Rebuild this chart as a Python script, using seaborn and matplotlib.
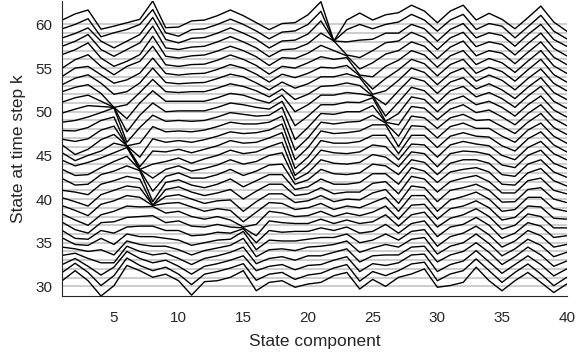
import numpy as np
import pandas as pd
import matplotlib.pyplot as plt
import seaborn as sns

# time steps (one trace each) and state components (x axis)
steps = list(range(30, 61))
components = list(range(1, 41))

# offset of each trace above its time-step line, per component, for k = 30..60
comp_01 = [0.65, 0.6, 0.5, 0.55, 0.5, 0.55, 0.4, 0.35, 0.3, 0.25, 0.15, 0.0, 0.35, 0.4, 0.45, 0.3, 0.2, -0.15, -0.15, -0.2, -0.15, 0.1, 0.3, 0.1, 0.05, 0.0, 0.55, 0.5, 0.45, 0.5, 0.5]
comp_02 = [1.8, 1.65, 1.2, 0.8, 0.3, -0.2, -0.5, -0.5, -0.4, -0.3, -0.3, -0.2, -0.4, -0.3, -0.2, -0.6, -0.9, -0.4, -0.2, 0.0, 0.3, 0.6, 0.8, 0.84, 1.0, 0.96, 1.1, 1.07, 0.96, 1.0, 1.2]
comp_03 = [0.65, 0.6, 0.3, 0.2, 0.0, -0.3, -0.6, -0.9, -1.0, -0.9, -0.8, -0.5, -0.3, -0.2, 0.2, 0.0, -0.3, -0.1, 0.2, 0.4, 0.7, 0.9, 1.1, 1.23, 1.19, 1.53, 1.88, 1.84, 1.6, 1.65, 1.65]
comp_04 = [-1.1, -0.9, -0.7, -0.3, 0.2, 0.5, 0.4, 0.3, 0.2, 0.4, 0.5, 0.7, 0.8, 0.6, 0.7, 0.5, 0.8, 0.9, 1.0, 0.9, 0.6, 0.2, 0.1, 0.27, 0.23, 0.19, 0.15, 0.12, 0.08, -0.42, -0.55]
comp_05 = [0.08, 0.23, 0.2, -0.3, -0.4, -0.2, 0.1, 0.4, 0.6, 0.8, 1.0, 1.1, 1.2, 1.3, 1.3, 1.4, 1.4, 1.35, 1.4, 1.45, 0.5, -0.5, -1.5, -1.0, -0.73, -0.77, -0.8, -0.65, -0.69, 0.04, -0.2]
comp_06 = [2.4, 2.25, 2.0, 1.6, 1.2, 1.0, 0.8, 0.9, 1.2, 1.4, 1.5, 1.6, 1.8, 1.9, 1.9, 1.05, 0.1, -0.9, -1.9, -2.5, -2.3, -1.8, -1.2, -0.7, -0.35, 0.19, -0.23, 0.12, 0.08, 0.42, 0.19]
comp_07 = [1.8, 1.4, 1.2, 1.0, 0.8, 0.7, 0.9, 1.0, 1.1, 1.2, 1.3, 1.3, 1.25, 0.35, -0.6, -1.6, -2.3, -2.2, -1.6, -0.8, -0.4, 0.0, 0.2, 0.3, 0.42, 0.77, 0.54, 0.88, 0.84, 1.0, 0.58]
comp_08 = [1.05, 0.8, 0.7, 0.6, 0.6, 0.7, 0.9, 1.1, 1.15, 0.25, -0.7, -1.7, -2.3, -2.1, -1.6, -1.0, -0.5, -0.1, 0.3, 0.6, 1.0, 1.4, 1.7, 2.0, 2.15, 2.5, 2.65, 2.8, 2.8, 2.7, 2.68]
comp_09 = [1.4, 1.2, 1.0, 0.8, 0.6, 0.5, 0.4, 0.3, 0.4, 0.5, 0.3, 0.1, -0.1, -0.4, -0.6, -0.7, -0.6, -0.5, -0.3, -0.1, 0.0, 0.2, 0.3, 0.35, 0.38, 0.38, 0.35, 0.31, 0.27, 0.04, -0.38]
comp_10 = [0.65, 0.4, 0.3, 0.2, 0.2, 0.3, 0.4, 0.5, 0.6, 0.6, 0.5, 0.4, 0.2, 0.0, -0.2, -0.3, -0.3, -0.3, -0.2, 0.0, 0.1, 0.2, 0.2, 0.2, 0.2, 0.19, 0.15, 0.12, -0.12, -0.35, -0.3]
comp_11 = [-1.0, -0.8, -0.6, -0.5, -0.4, -0.3, -0.2, -0.1, 0.0, 0.1, 0.0, -0.2, -0.4, -0.6, -0.8, -0.9, -0.7, -0.5, -0.3, -0.1, 0.1, 0.2, 0.3, 0.3, 0.35, 0.4, 0.4, 0.4, 0.4, 0.4, 0.4]
comp_12 = [0.54, 0.4, 0.3, 0.2, 0.1, 0.0, -0.1, -0.2, -0.3, -0.4, -0.5, -0.6, -0.7, -0.6, -0.5, -0.4, -0.3, -0.2, -0.1, 0.0, 0.1, 0.2, 0.3, 0.35, 0.4, 0.45, 0.5, 0.5, 0.5, 0.5, 0.5]
comp_13 = [0.65, 0.7, 0.6, 0.5, 0.4, 0.3, 0.2, 0.1, 0.0, -0.1, -0.2, -0.3, -0.3, -0.2, -0.1, 0.0, 0.1, 0.2, 0.3, 0.4, 0.5, 0.6, 0.7, 0.8, 0.85, 0.9, 0.95, 1.0, 1.0, 1.0, 1.0]
comp_14 = [1.04, 1.1, 1.0, 0.9, 0.7, 0.4, 0.1, -0.2, -0.4, -0.3, -0.1, 0.1, 0.3, 0.4, 0.5, 0.6, 0.7, 0.7, 0.8, 0.9, 1.0, 1.1, 1.2, 1.3, 1.4, 1.5, 1.5, 1.6, 1.6, 1.6, 1.65]
comp_15 = [1.8, 1.6, 1.5, 1.5, 1.5, 1.3, 0.6, -0.3, -1.2, -1.6, -1.4, -1.0, -0.6, -0.3, 0.0, 0.2, 0.4, 0.5, 0.6, 0.7, 0.8, 0.9, 0.9, 1.0, 1.0, 1.0, 1.0, 1.0, 1.0, 1.0, 1.0]
comp_16 = [-0.5, -0.3, -0.2, -0.4, -0.6, -0.8, -1.0, -1.2, -0.9, -0.5, -0.3, -0.1, 0.1, 0.2, 0.3, 0.4, 0.5, 0.6, 0.6, 0.5, 0.5, 0.4, 0.4, 0.3, 0.3, 0.3, 0.3, 0.3, 0.3, 0.25, 0.2]
comp_17 = [0.46, 0.4, 0.3, 0.2, 0.2, 0.3, 0.4, 0.5, 0.6, 0.6, 0.6, 0.7, 0.8, 0.9, 1.0, 1.0, 1.0, 0.9, 0.8, 0.6, 0.3, 0.0, -0.3, -0.5, -0.6, -0.7, -0.7, -0.7, -0.7, -0.65, -0.6]
comp_18 = [0.65, 0.6, 0.5, 0.4, 0.3, 0.2, 0.2, 0.3, 0.4, 0.5, 0.6, 0.7, 0.8, 1.0, 1.3, 1.5, 1.6, 1.6, 1.5, 1.5, 1.2, 0.9, 0.6, 0.4, 0.3, 0.2, 0.2, 0.1, 0.1, 0.12, 0.1]
comp_19 = [-0.1, -0.2, -0.1, 0.0, 0.1, 0.2, 0.3, 0.2, 0.0, -0.2, -0.4, -0.6, -0.9, -1.3, -1.8, -2.3, -2.5, -2.5, -2.4, -2.2, -1.6, -1.0, -0.6, -0.3, -0.1, 0.0, 0.1, 0.2, 0.2, 0.25, 0.2]
comp_20 = [0.27, 0.3, 0.4, 0.5, 0.5, 0.4, 0.3, 0.2, 0.1, 0.0, -0.2, -0.4, -0.6, -0.8, -1.0, -1.1, -1.2, -1.1, -1.0, -0.8, -0.5, -0.2, 0.0, 0.2, 0.4, 0.6, 0.7, 0.8, 0.9, 1.0, 1.1]
comp_21 = [0.46, 0.5, 0.5, 0.5, 0.6, 0.6, 0.7, 0.7, 0.6, 0.5, 0.4, 0.3, 0.3, 0.4, 0.5, 0.6, 0.7, 0.8, 0.8, 0.8, 0.8, 0.9, 0.9, 1.0, 1.1, 1.3, 1.6, 2.0, 2.4, 2.5, 2.6]
comp_22 = [1.23, 1.1, 1.0, 0.9, 0.8, 0.6, 0.4, 0.2, 0.0, -0.2, -0.3, -0.4, -0.3, -0.1, 0.1, 0.3, 0.4, 0.5, 0.6, 0.7, 0.8, 0.9, 1.0, 1.0, 1.0, 1.0, 1.0, 1.1, 0.1, -0.9, -1.9]
comp_23 = [1.6, 1.5, 1.4, 1.3, 1.2, 1.0, 0.8, 0.6, 0.4, 0.2, 0.0, -0.2, -0.3, -0.2, 0.0, 0.2, 0.4, 0.6, 0.8, 1.0, 1.1, 1.2, 1.3, 1.35, 1.3, 1.2, 0.4, -0.5, 0.0, 0.4, 0.5]
comp_24 = [-0.3, -0.4, -0.3, -0.2, -0.1, 0.0, 0.1, 0.2, 0.1, 0.0, -0.1, -0.2, -0.1, 0.0, 0.2, 0.4, 0.6, 0.8, 0.9, 1.0, 1.05, 1.05, 1.0, 0.9, 0.1, -0.8, -1.1, -0.8, 0.2, 1.0, 1.3]
comp_25 = [0.8, 0.7, 0.6, 0.5, 0.4, 0.3, 0.3, 0.4, 0.5, 0.6, 0.7, 0.8, 0.9, 1.0, 1.1, 1.2, 1.3, 1.5, 1.6, 1.7, 1.6, 0.8, -0.2, -1.0, -1.4, -1.0, -0.4, 0.0, 0.3, 0.5, 0.5]
comp_26 = [0.0, 0.23, 0.4, 0.6, 0.8, 1.0, 1.1, 1.2, 1.2, 1.2, 1.1, 1.0, 0.9, 0.8, 0.8, 1.0, 1.3, 1.5, 0.7, -0.2, -1.1, -1.5, -1.2, -0.6, -0.2, 0.2, 0.6, 0.9, 1.0, 1.0, 1.1]
comp_27 = [1.04, 0.8, 0.7, 0.6, 0.5, 0.3, 0.1, -0.1, -0.3, -0.4, -0.5, -0.4, -0.3, -0.2, -0.3, -0.5, -0.8, -1.0, -0.8, -0.5, -0.2, 0.1, 0.4, 0.6, 0.8, 0.9, 1.0, 1.1, 1.0, 1.27, 1.34]
comp_28 = [1.42, 1.57, 1.6, 1.5, 1.4, 1.3, 1.2, 1.2, 1.3, 1.4, 1.5, 1.6, 1.6, 1.5, 1.4, 1.3, 1.3, 1.4, 1.5, 1.6, 1.7, 1.8, 1.9, 2.0, 2.0, 2.0, 2.0, 2.1, 2.0, 2.15, 2.2]
comp_29 = [2.0, 1.77, 1.7, 1.6, 1.6, 1.5, 1.5, 1.5, 1.4, 1.4, 1.3, 1.3, 1.2, 1.2, 1.2, 1.2, 1.3, 1.3, 1.3, 1.4, 1.4, 1.4, 1.5, 1.5, 1.5, 1.5, 1.5, 1.5, 1.5, 1.5, 1.53]
comp_30 = [-0.1, -0.35, -0.3, -0.2, -0.3, -0.4, -0.3, -0.2, -0.3, -0.4, -0.3, -0.2, -0.1, -0.2, -0.3, -0.2, -0.1, 0.0, 0.1, 0.1, 0.0, 0.0, 0.1, 0.1, 0.1, 0.1, 0.1, 0.1, 0.08, 0.23, 0.19]
comp_31 = [0.1, 0.42, 0.5, 0.6, 0.6, 0.7, 0.8, 0.8, 0.9, 0.9, 1.0, 1.0, 1.1, 1.1, 1.2, 1.2, 1.2, 1.3, 1.3, 1.3, 1.3, 1.4, 1.4, 1.4, 1.4, 1.4, 1.4, 1.45, 1.42, 1.5, 1.53]
comp_32 = [0.46, 0.8, 0.9, 1.0, 1.0, 1.1, 1.1, 1.2, 1.2, 1.3, 1.3, 1.4, 1.4, 1.5, 1.5, 1.6, 1.6, 1.7, 1.7, 1.8, 1.8, 1.9, 1.9, 2.0, 2.0, 2.0, 2.1, 2.1, 2.1, 2.15, 2.2]
comp_33 = [2.2, 2.15, 2.1, 2.0, 2.0, 1.9, 1.9, 1.9, 1.8, 1.8, 1.7, 1.7, 1.6, 1.5, 1.4, 1.3, 1.2, 1.1, 1.0, 0.9, 0.8, 0.7, 0.6, 0.5, 0.4, 0.4, 0.4, 0.45, 0.46, 0.42, 0.5]
comp_34 = [0.65, 0.8, 0.8, 0.9, 0.9, 0.9, 1.0, 1.0, 1.0, 1.0, 1.0, 1.0, 1.1, 1.1, 1.1, 1.1, 1.1, 1.1, 1.1, 1.2, 1.2, 1.2, 1.2, 1.2, 1.1, 1.1, 1.0, 1.0, 1.04, 1.1, 1.27]
comp_35 = [-0.5, -0.54, -0.5, -0.5, -0.5, -0.5, -0.5, -0.45, -0.4, -0.4, -0.35, -0.3, -0.3, -0.2, -0.1, 0.0, 0.1, 0.2, 0.3, 0.4, 0.5, 0.5, 0.5, 0.6, 0.6, 0.6, 0.7, 0.7, 0.73, 0.8, 0.58]
comp_36 = [0.65, 0.6, 0.5, 0.4, 0.3, 0.2, 0.1, 0.0, -0.1, -0.2, -0.3, -0.3, -0.4, -0.4, -0.4, -0.5, -0.5, -0.5, -0.5, -0.5, -0.5, -0.5, -0.5, -0.5, -0.5, -0.5, -0.5, -0.5, -0.5, -0.54, -0.5]
comp_37 = [1.6, 1.57, 1.5, 1.5, 1.4, 1.4, 1.3, 1.3, 1.2, 1.2, 1.1, 1.1, 1.0, 1.0, 1.0, 0.9, 0.9, 0.9, 0.8, 0.8, 0.8, 0.8, 0.8, 0.8, 0.8, 0.8, 0.8, 0.8, 0.84, 0.73, 0.77]
comp_38 = [0.46, 0.42, 0.5, 0.6, 0.7, 0.8, 0.9, 1.0, 1.1, 1.2, 1.3, 1.4, 1.5, 1.5, 1.6, 1.6, 1.7, 1.7, 1.8, 1.8, 1.8, 1.9, 1.9, 1.9, 2.0, 2.0, 2.0, 2.0, 2.0, 2.04, 2.1]
comp_39 = [-0.7, -0.92, -0.8, -0.7, -0.6, -0.5, -0.4, -0.3, -0.2, -0.1, 0.0, 0.0, 0.1, 0.1, 0.1, 0.2, 0.2, 0.2, 0.2, 0.2, 0.2, 0.2, 0.2, 0.25, 0.25, 0.25, 0.25, 0.25, 0.27, 0.23, 0.27]
comp_40 = [0.27, 0.04, 0.0, -0.1, -0.1, -0.2, -0.2, -0.3, -0.3, -0.4, -0.4, -0.4, -0.5, -0.5, -0.5, -0.5, -0.6, -0.6, -0.6, -0.6, -0.6, -0.6, -0.6, -0.6, -0.6, -0.6, -0.6, -0.6, -0.5, -0.65, -0.77]

columns = [comp_01, comp_02, comp_03, comp_04, comp_05, comp_06, comp_07, comp_08,
           comp_09, comp_10, comp_11, comp_12, comp_13, comp_14, comp_15, comp_16,
           comp_17, comp_18, comp_19, comp_20, comp_21, comp_22, comp_23, comp_24,
           comp_25, comp_26, comp_27, comp_28, comp_29, comp_30, comp_31, comp_32,
           comp_33, comp_34, comp_35, comp_36, comp_37, comp_38, comp_39, comp_40]

sns.set_style("white")
plt.rcParams['font.family'] = ['Liberation Sans', 'DejaVu Sans']

rows = []
for c, col in zip(components, columns):
    assert len(col) == len(steps)
    for k, d in zip(steps, col):
        rows.append({"component": c, "step": k, "value": k + d})
df = pd.DataFrame(rows)

fig = plt.figure(figsize=(5.76, 3.53), dpi=100)
ax = fig.add_axes([62.2 / 576, 57 / 353, 504.5 / 576, 295 / 353])

# grey reference line at every time step
for k in steps:
    ax.axhline(k, color="#c0c0c0", lw=1.1, zorder=1)

sns.lineplot(data=df, x="component", y="value", units="step", estimator=None,
             color="black", lw=1.0, ax=ax, legend=False, zorder=2, sort=False)

ax.set_xlim(1, 40)
ax.set_ylim(df["value"].min(), df["value"].max())
ax.set_xticks([5, 10, 15, 20, 25, 30, 35, 40])
ax.set_yticks([30, 35, 40, 45, 50, 55, 60])
for s in ["top", "right"]:
    ax.spines[s].set_visible(False)
for s in ["left", "bottom"]:
    ax.spines[s].set_color("#262626")
    ax.spines[s].set_linewidth(0.8)
ax.tick_params(direction="in", length=5, width=0.8, color="#262626",
               labelcolor="#262626", labelsize=11)
ax.tick_params(axis="x", pad=11)
ax.tick_params(axis="y", pad=7)

ax.set_xlabel("State component", fontsize=12.5, color="#262626")
ax.set_ylabel("State at time step k", fontsize=12.5, color="#262626")
ax.xaxis.set_label_coords(0.5, -0.155)
ax.xaxis.label.set_va("center")
ax.yaxis.set_label_coords(-0.086, 0.5)
ax.yaxis.label.set_va("center")

fig.savefig("out.png", dpi=100)
